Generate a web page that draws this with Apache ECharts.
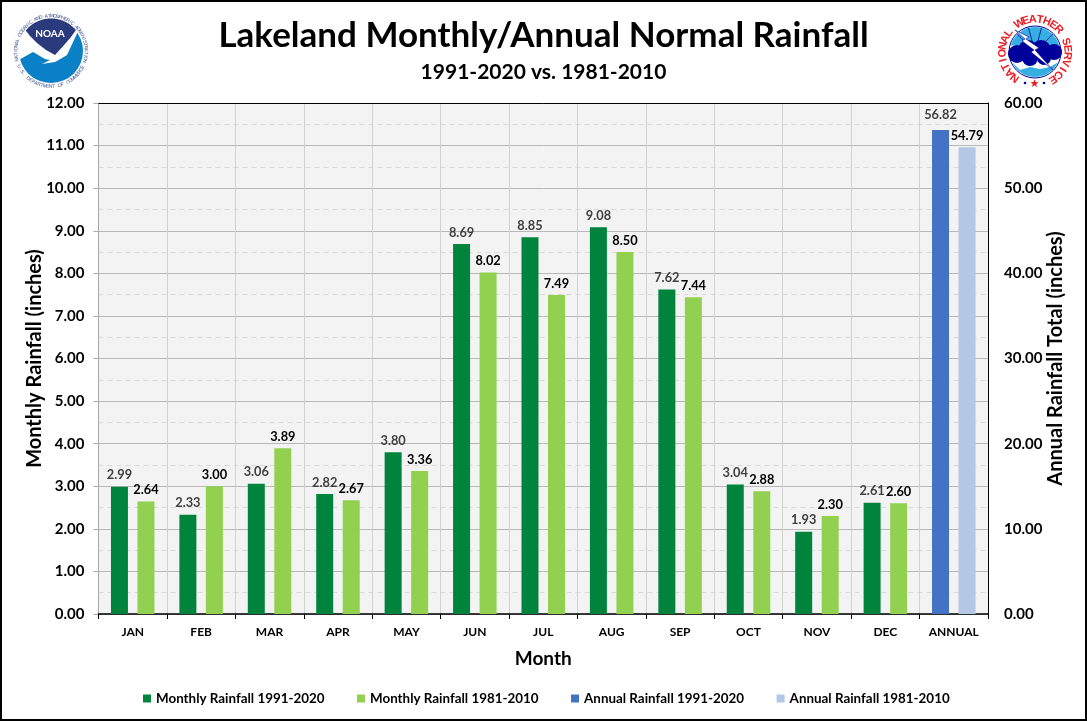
<!DOCTYPE html>
<html>
<head>
<meta charset="utf-8">
<title>Lakeland Monthly/Annual Normal Rainfall</title>
<script src="https://cdn.jsdelivr.net/npm/echarts@6/dist/echarts.min.js"></script>
<style>
  html, body { margin: 0; padding: 0; background: #fff; }
  #main { width: 1087px; height: 721px; }
</style>
</head>
<body>
<div id="main"></div>
<script>
var categories = ['JAN', 'FEB', 'MAR', 'APR', 'MAY', 'JUN', 'JUL', 'AUG', 'SEP', 'OCT', 'NOV', 'DEC', 'ANNUAL']
var monthly9120 = [2.99, 2.33, 3.06, 2.82, 3.80, 8.69, 8.85, 9.08, 7.62, 3.04, 1.93, 2.61, null]
var monthly8110 = [2.64, 3.00, 3.89, 2.67, 3.36, 8.02, 7.49, 8.50, 7.44, 2.88, 2.30, 2.60, null]
var annual9120 = [null, null, null, null, null, null, null, null, null, null, null, null, 56.82]
var annual8110 = [null, null, null, null, null, null, null, null, null, null, null, null, 54.79]

var FONT = 'Lato, "Open Sans", sans-serif'

function num2(v) {
  return v.toFixed(2)
}

function arcPts(cx, cy, r, a0, a1, n) {
  var pts = []
  for (var i = 0; i <= n; i++) {
    var a = (a0 + (a1 - a0) * i / n) * Math.PI / 180
    pts.push([cx + r * Math.cos(a), cy + r * Math.sin(a)])
  }
  return pts
}

// one text element per letter, turned to follow the ring
function ringText(str, cx, cy, r, a0, a1, font, fill, bottom) {
  var out = []
  var step = (a1 - a0) / (str.length - 1)
  str.split('').forEach(function (ch, i) {
    if (ch === ' ') return
    var deg = a0 + step * i
    var a = deg * Math.PI / 180
    out.push({
      type: 'text', z: 101,
      x: cx + r * Math.cos(a), y: cy + r * Math.sin(a),
      rotation: -(deg + (bottom ? -90 : 90)) * Math.PI / 180,
      style: { text: ch, font: font, fill: fill, textAlign: 'center', textVerticalAlign: 'middle' }
    })
  })
  return out
}

function poly(points, fill, stroke, lw) {
  return { type: 'polygon', z: 100, shape: { points: points }, style: { fill: fill, stroke: stroke || null, lineWidth: lw || 0 } }
}

function disc(cx, cy, r, fill, stroke, lw) {
  return { type: 'circle', z: 100, shape: { cx: cx, cy: cy, r: r }, style: { fill: fill, stroke: stroke || null, lineWidth: lw || 0 } }
}

function noaaLogo() {
  var cx = 51, cy = 51, navy = '#2a3a7c'
  var items = [disc(cx, cy, 32, '#0a80c6')]
  items.push(poly(arcPts(cx, cy, 32.5, 165, 325, 30).concat([[67, 55], [62, 58], [55, 62], [42, 64], [50, 60], [45, 59], [33, 52]]), '#fff'))
  items.push(poly(arcPts(cx, cy, 32.5, 219, 320, 24).concat([[71, 37], [65, 44], [55, 55], [46, 50], [37, 43], [30, 36]]), navy))
  items.push({ type: 'text', z: 101, x: 50, y: 34, style: { text: 'NOAA', font: 'bold 10px ' + FONT, fill: '#fff', textAlign: 'center', textVerticalAlign: 'middle' } })
  items = items.concat(ringText('NATIONAL OCEANIC AND ATMOSPHERIC ADMINISTRATION', cx, cy, 35, 166, 377, '5px "Liberation Sans"', '#3d5290'))
  items = items.concat(ringText('U.S. DEPARTMENT OF COMMERCE', cx, cy, 35.5, 154, 27, '5px "Liberation Sans"', '#3d5290', true))
  return items
}

function nwsLogo() {
  var cx = 1035, cy = 52, navy = '#00009a', sky = '#35aee2'
  var items = [disc(cx, cy, 26, '#fff', navy, 1)]
  items.push(poly(arcPts(cx, cy, 25, 195, 345, 24), sky))
  ;[225, 255, 285, 315].forEach(function (d) {
    var p = arcPts(cx, cy, 25, d, d, 1)[0]
    items.push({ type: 'line', z: 100, shape: { x1: cx, y1: cy, x2: p[0], y2: p[1] }, style: { stroke: navy, lineWidth: 0.8 } })
  })
  items.push(poly(arcPts(cx, cy, 25, 25, 155, 20).concat([[1020, 70], [1030, 67], [1040, 69], [1050, 67]]), sky))
  items.push(poly([[1012, 47], [1060, 47], [1060, 57], [1012, 60]], navy))
  items.push(disc(1017, 54, 9, navy), disc(1028, 50, 10, navy), disc(1041, 50, 10, navy), disc(1054, 52, 8, navy))
  items.push(disc(1030, 58, 8, navy), disc(1044, 58, 7, navy))
  items.push(poly([[1015, 30], [1029, 37], [1026, 39], [1039, 48], [1035, 50], [1053, 70], [1031, 52], [1034, 50], [1022, 41], [1025, 39]], '#fff', navy, 0.6))
  items = items.concat(ringText('NATIONAL WEATHER SERVICE', cx, cy, 32.5, 128, 417, 'bold 11px "Liberation Sans"', '#ed1c24'))
  items.push(disc(1025, 83, 1.3, navy), disc(1044, 83, 1.3, navy))
  var star = []
  for (var i = 0; i < 10; i++) {
    var a = (-90 + i * 36) * Math.PI / 180, r = i % 2 ? 1.8 : 4.2
    star.push([1034.5 + r * Math.cos(a), 83.5 + r * Math.sin(a)])
  }
  items.push(poly(star, '#ed1c24'))
  return items
}

function labelCfg(color, dist) {
  return {
    show: true, position: 'top', distance: dist,
    formatter: function (p) { return num2(p.value) },
    fontFamily: FONT, fontWeight: 'bold', fontSize: 12.8, color: color
  }
}

function barSeries(name, data, color, axisIdx, labelColor, dist) {
  return {
    name: name, type: 'bar', xAxisIndex: axisIdx, yAxisIndex: axisIdx,
    data: data, barWidth: 17, barGap: '56%',
    itemStyle: { color: color },
    label: labelCfg(labelColor, dist)
  }
}

var echart = echarts.init(document.getElementById('main'))

var option = {
  animation: false,
  backgroundColor: '#fff',
  textStyle: { fontFamily: FONT },
  title: [{
    text: 'Lakeland Monthly/Annual Normal Rainfall',
    left: 'center', top: 13,
    textStyle: { fontFamily: FONT, fontSize: 35, fontWeight: 'bold', color: '#000' }
  }, {
    text: '1991-2020 vs. 1981-2010',
    left: 'center', top: 57,
    textStyle: { fontFamily: FONT, fontSize: 21, fontWeight: 'bold', color: '#000' }
  }],
  legend: {
    left: 138, top: 687,
    itemWidth: 8, itemHeight: 8, itemGap: 32.5,
    icon: 'rect',
    data: ['Monthly Rainfall 1991-2020', 'Monthly Rainfall 1981-2010', 'Annual Rainfall 1991-2020', 'Annual Rainfall 1981-2010'],
    textStyle: { fontFamily: FONT, fontSize: 13.4, fontWeight: 'bold', color: '#000' }
  },
  grid: {
    left: 98.5, right: 99, top: 103, bottom: 107,
    show: true, backgroundColor: '#f3f3f3', borderWidth: 0,
    containLabel: false
  },
  xAxis: [{
    type: 'category', data: categories, position: 'bottom',
    name: 'Month', nameLocation: 'middle', nameGap: 35,
    nameTextStyle: { fontFamily: FONT, fontSize: 19, fontWeight: 'bold', color: '#000' },
    axisLine: { show: true, lineStyle: { color: '#000', width: 1.5 } },
    axisTick: { show: true, length: 5, lineStyle: { color: '#000' } },
    axisLabel: { fontFamily: FONT, fontSize: 12, fontWeight: 'bold', color: '#000', margin: 12 },
    splitLine: { show: true, lineStyle: { color: '#d0d0d0', width: 1 } }
  }, {
    type: 'category', data: categories, position: 'top',
    axisLine: { show: true, onZero: false, lineStyle: { color: '#000', width: 1 } },
    axisTick: { show: false },
    axisLabel: { show: false },
    splitLine: { show: false }
  }],
  yAxis: [{
    type: 'value', min: 0, max: 12, interval: 1, position: 'left',
    name: 'Monthly Rainfall (inches)', nameLocation: 'middle', nameGap: 54, nameRotate: 90, nameMoveOverlap: false,
    nameTextStyle: { fontFamily: FONT, fontSize: 20, fontWeight: 'bold', color: '#000' },
    axisLine: { show: true, lineStyle: { color: '#a6a6a6' } },
    axisTick: { show: true, length: 5, lineStyle: { color: '#a6a6a6' } },
    axisLabel: { fontFamily: FONT, fontSize: 15, fontWeight: 'bold', color: '#000', margin: 14, formatter: num2 },
    splitLine: { show: true, lineStyle: { color: '#b8b8b8', width: 1 } },
    minorTick: { show: false, splitNumber: 2 },
    minorSplitLine: { show: true, lineStyle: { color: '#d9d9d9', type: [5, 4], width: 1 } }
  }, {
    type: 'value', min: 0, max: 60, interval: 10, position: 'right',
    name: 'Annual Rainfall Total (inches)', nameLocation: 'middle', nameGap: 58, nameRotate: 90, nameMoveOverlap: false,
    nameTextStyle: { fontFamily: FONT, fontSize: 20, fontWeight: 'bold', color: '#000' },
    axisLine: { show: true, lineStyle: { color: '#000' } },
    axisTick: { show: false },
    axisLabel: { fontFamily: FONT, fontSize: 15, fontWeight: 'bold', color: '#000', margin: 16, formatter: num2 },
    splitLine: { show: false }
  }],
  series: [
    barSeries('Monthly Rainfall 1991-2020', monthly9120, '#00843d', 0, '#404040', 5),
    barSeries('Monthly Rainfall 1981-2010', monthly8110, '#92d050', 0, '#000', 5),
    barSeries('Annual Rainfall 1991-2020', annual9120, '#4472c4', 1, '#404040', 9),
    barSeries('Annual Rainfall 1981-2010', annual8110, '#b4c7e7', 1, '#000', 5)
  ],
  graphic: {
    elements: [{
      type: 'rect', z: 100,
      shape: { x: 1, y: 1, width: 1085, height: 719 },
      style: { fill: null, stroke: '#000', lineWidth: 2 }
    }].concat(noaaLogo(), nwsLogo())
  }
}

echart.setOption(option)
</script>
</body>
</html>
